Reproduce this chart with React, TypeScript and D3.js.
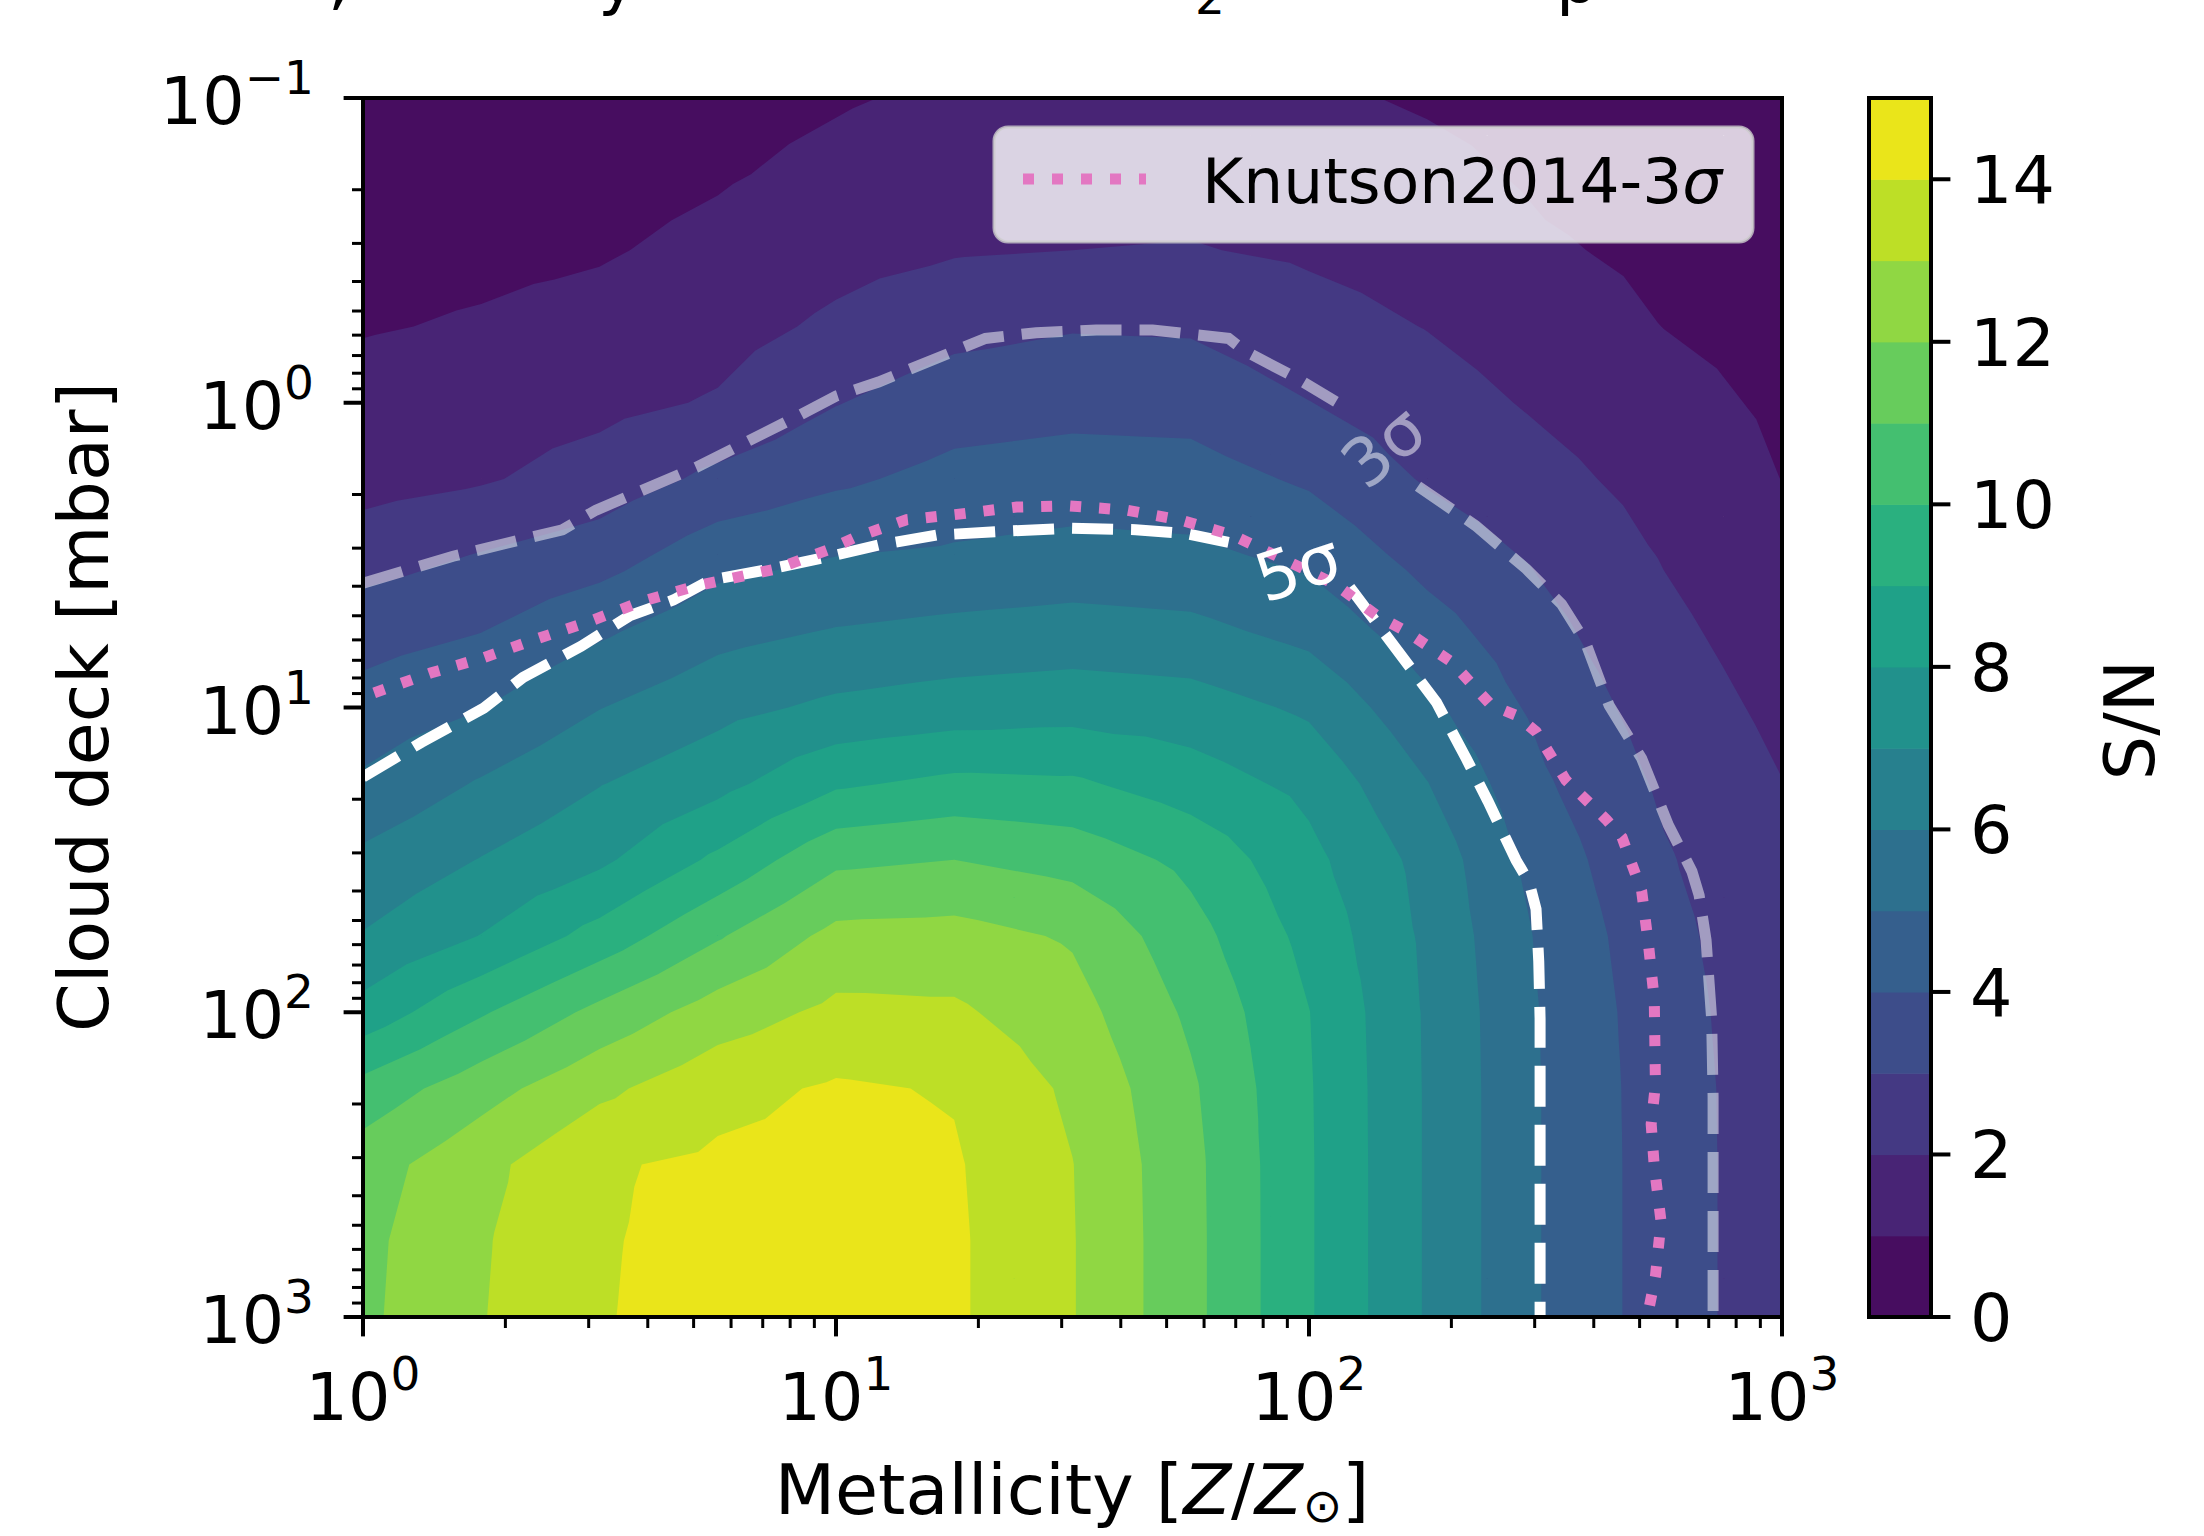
import React from "react";
import * as d3 from "d3";

// ---------------- data ----------------
// grid columns: metallicity [Z/Zsun]
const METALLICITY = [1, 1.778, 3.162, 5.623, 10, 17.78, 31.62, 56.23, 100, 177.8, 316.2, 562.3, 1000];
// grid rows: cloud deck pressure [mbar]
const CLOUD_DECK = [0.1, 0.1778, 0.3162, 0.5623, 1, 1.778, 3.162, 5.623, 10, 17.78, 31.62, 56.23, 100, 177.8, 316.2, 562.3, 1000];

// S/N values, one array per cloud-deck row (columns follow METALLICITY)
const SN_P0100 = [0.30, 0.35, 0.45, 0.70, 0.92, 1.15, 1.30, 1.30, 1.15, 0.90, 0.65, 0.45, 0.30];
const SN_P0178 = [0.51, 0.58, 0.69, 0.91, 1.23, 1.53, 1.65, 1.66, 1.50, 1.26, 0.85, 0.63, 0.44];
const SN_P0316 = [0.73, 0.81, 0.92, 1.23, 1.67, 1.92, 2.00, 2.05, 1.86, 1.61, 1.10, 0.81, 0.57];
const SN_P0562 = [0.94, 1.08, 1.29, 1.63, 2.18, 2.70, 2.93, 2.88, 2.37, 1.97, 1.46, 0.99, 0.71];
const SN_P1000 = [1.33, 1.52, 1.73, 2.09, 2.96, 3.53, 3.69, 3.64, 3.02, 2.43, 1.84, 1.31, 0.85];
const SN_P1780 = [1.62, 1.90, 2.42, 3.24, 3.82, 4.31, 4.46, 4.40, 3.86, 2.90, 2.29, 1.63, 0.99];
const SN_P3160 = [2.55, 3.05, 3.52, 4.59, 4.98, 5.14, 5.33, 5.22, 4.75, 3.63, 2.81, 1.94, 1.24];
const SN_P5620 = [3.59, 3.98, 4.84, 5.69, 6.06, 6.27, 6.41, 6.27, 5.70, 4.43, 3.26, 2.24, 1.50];
const SN_P10 = [4.38, 4.97, 5.97, 6.69, 7.21, 7.47, 7.60, 7.45, 6.83, 5.24, 3.68, 2.54, 1.76];
const SN_P17 = [5.17, 6.10, 6.96, 7.69, 8.85, 9.25, 9.16, 8.49, 7.73, 6.03, 4.10, 2.84, 2.02];
const SN_P31 = [6.23, 7.04, 7.80, 9.20, 10.79, 11.00, 10.63, 9.74, 8.28, 6.65, 4.50, 3.10, 2.20];
const SN_P56 = [7.06, 8.03, 9.37, 10.90, 12.30, 12.37, 11.89, 10.37, 8.70, 6.80, 4.78, 3.30, 2.30];
const SN_P100 = [8.36, 9.89, 11.28, 12.47, 13.24, 13.16, 12.39, 10.82, 9.02, 6.88, 4.90, 3.42, 2.36];
const SN_P178 = [10.36, 11.60, 12.77, 13.70, 14.12, 13.93, 12.82, 11.15, 9.08, 6.90, 4.93, 3.48, 2.40];
const SN_P316 = [11.55, 12.70, 13.90, 14.18, 14.30, 14.10, 13.02, 11.28, 9.10, 6.90, 4.93, 3.50, 2.40];
const SN_P562 = [11.75, 12.90, 13.93, 14.27, 14.38, 14.15, 13.05, 11.30, 9.10, 6.90, 4.93, 3.50, 2.40];
const SN_P1K = [11.80, 12.95, 13.95, 14.30, 14.40, 14.15, 13.05, 11.30, 9.10, 6.90, 4.93, 3.50, 2.40];

const SN_ROWS = [SN_P0100, SN_P0178, SN_P0316, SN_P0562, SN_P1000, SN_P1780, SN_P3160, SN_P5620,
  SN_P10, SN_P17, SN_P31, SN_P56, SN_P100, SN_P178, SN_P316, SN_P562, SN_P1K];

const LEVELS = [0, 1, 2, 3, 4, 5, 6, 7, 8, 9, 10, 11, 12, 13, 14, 15];
const CBAR_TICKS = [0, 2, 4, 6, 8, 10, 12, 14];

// contour lines [metallicity, cloud deck mbar]; split where the inline label sits
const SIGMA3_A = [[1, 3.91], [1.55, 3.19], [2.64, 2.61], [3.11, 2.25], [5.06, 1.63], [8.22, 1.115], [10.0, 0.951],
  [12.3, 0.855], [20.7, 0.615], [26.5, 0.589], [35.5, 0.577], [46.7, 0.577], [67.6, 0.615], [73.3, 0.677],
  [93.8, 0.828], [114, 0.992]];
const SIGMA3_B = [[170, 1.88], [225, 2.53], [288, 3.51], [342, 4.58], [384, 6.10], [431, 9.84], [505, 14.7],
  [575, 24.3], [645, 34.5], [668, 41.3], [691, 58.0], [710, 105], [715, 189], [715, 1000]];
const SIGMA5_A = [[1, 16.9], [1.33, 13.0], [1.80, 10.05], [2.18, 7.96], [2.89, 6.30], [3.67, 4.99], [4.53, 4.44],
  [5.42, 3.82], [7.02, 3.55], [10.0, 3.16], [12.3, 2.93], [16.3, 2.72], [22.6, 2.64], [31.2, 2.58], [43.0, 2.61],
  [55.0, 2.69], [67.6, 2.87]];
const SIGMA5_B = [[122, 4.03], [186, 9.63], [215, 14.7], [239, 20.3], [274, 31.7], [292, 37.5], [302, 45.9],
  [306, 68.0], [308, 105], [308, 1000]];
const KNUTSON = [[1.056, 8.95], [1.389, 7.71], [1.80, 6.86], [2.32, 5.97], [3.03, 5.20], [3.90, 4.48], [5.06, 3.99],
  [7.47, 3.51], [9.68, 3.03], [10.9, 2.78], [14.1, 2.42], [18.2, 2.32], [24.1, 2.20], [31.2, 2.18], [41.0, 2.25],
  [53.2, 2.42], [69.0, 2.72], [88.2, 3.26], [114, 3.95], [139, 4.99], [160, 5.61], [200, 7.08], [243, 9.84],
  [274, 10.6], [302, 12.0], [349, 17.3], [425, 23.3], [459, 26.7], [505, 40.0], [522, 59.9], [537, 90.7],
  [540, 173], [529, 233], [537, 321], [555, 486], [540, 735], [519, 1000]];

const X_DECADES = [1, 10, 100, 1000];
const X_EXP = ["0", "1", "2", "3"];
const Y_DECADES = [0.1, 1, 10, 100, 1000];
const Y_EXP = ["\u22121", "0", "1", "2", "3"];

// ---------------- layout ----------------
const W = 2204;
const H = 1536;
const L = 363, R = 1782, T = 98, B = 1317;
const FS = 66.7;
const FS_LABEL = 70;
const FS_LEGEND = 63;
const SUP = 47;
const FONT = "'DejaVu Sans', sans-serif";
const CB_L = 1869, CB_R = 1931;

type V = [number, number, number];

function clipAbove(poly: V[], t: number): V[] {
  const out: V[] = [];
  for (let i = 0; i < poly.length; i++) {
    const a = poly[i];
    const b = poly[(i + 1) % poly.length];
    const ain = a[2] >= t;
    const bin = b[2] >= t;
    if (ain) out.push(a);
    if (ain !== bin) {
      const f = (t - a[2]) / (b[2] - a[2]);
      out.push([a[0] + f * (b[0] - a[0]), a[1] + f * (b[1] - a[1]), t]);
    }
  }
  return out;
}

function buildLayers(px: number[], py: number[], rows: number[][], levels: number[]): string[] {
  const res: string[] = [];
  for (let k = 0; k < levels.length - 1; k++) {
    const t = levels[k];
    let d = "";
    for (let r = 0; r < py.length - 1; r++) {
      for (let c = 0; c < px.length - 1; c++) {
        const a: V = [px[c], py[r], rows[r][c]];
        const b: V = [px[c + 1], py[r], rows[r][c + 1]];
        const cc: V = [px[c + 1], py[r + 1], rows[r + 1][c + 1]];
        const dd: V = [px[c], py[r + 1], rows[r + 1][c]];
        const m: V = [(a[0] + b[0]) / 2, (a[1] + dd[1]) / 2, (a[2] + b[2] + cc[2] + dd[2]) / 4];
        const tris: V[][] = [[a, b, m], [b, cc, m], [cc, dd, m], [dd, a, m]];
        for (const tri of tris) {
          const p = clipAbove(tri, t);
          if (p.length >= 3) {
            d += "M" + p.map((q) => q[0].toFixed(2) + "," + q[1].toFixed(2)).join("L") + "Z";
          }
        }
      }
    }
    res.push(d);
  }
  return res;
}

export default function App() {
  const x = d3.scaleLog().domain([1, 1000]).range([L, R]);
  const y = d3.scaleLog().domain([0.1, 1000]).range([T, B]);
  const yc = d3.scaleLinear().domain([0, 15]).range([B, T]);
  const color = (k: number) => d3.interpolateViridis((k + 0.5) / 15);

  const px = METALLICITY.map((v) => x(v));
  const py = CLOUD_DECK.map((v) => y(v));
  const layers = buildLayers(px, py, SN_ROWS, LEVELS);

  const line = d3.line<number[]>().x((d) => x(d[0])).y((d) => y(d[1]));

  const xMinor: number[] = [];
  [1, 10, 100].forEach((d) => { for (let m = 2; m <= 9; m++) xMinor.push(d * m); });
  const yMinor: number[] = [];
  [0.1, 1, 10, 100].forEach((d) => { for (let m = 2; m <= 9; m++) yMinor.push(d * m); });

  const faint = "rgba(255,255,255,0.5)";

  return (
    <svg width={W} height={H} style={{ position: "absolute", left: 0, top: 0, background: "#ffffff" }}
      fontFamily={FONT}>
      <defs>
        <clipPath id="plotclip">
          <rect x={L} y={T} width={R - L} height={B - T} />
        </clipPath>
      </defs>
      <rect x={0} y={0} width={W} height={H} fill="#ffffff" />

      {/* title, cut off by the top edge of the figure: only descenders remain */}
      <g fontSize={FS} fill="#000">
        <text x={328} y={2}>,</text>
        <text x={598} y={2}>y</text>
        <text x={1195} y={14} fontSize={SUP}>2</text>
        <text x={1556} y={2}>p</text>
      </g>

      {/* filled contours */}
      <g clipPath="url(#plotclip)">
        {layers.map((d, k) => (
          <path key={k} d={d} fill={color(k)} stroke="none" />
        ))}
      </g>

      {/* contour lines */}
      <g clipPath="url(#plotclip)" fill="none">
        <path d={line(SIGMA3_A) || ""} stroke={faint} strokeWidth={11} strokeDasharray="41,18" />
        <path d={line(SIGMA3_B) || ""} stroke={faint} strokeWidth={11} strokeDasharray="41,18" />
        <path d={line(SIGMA5_A) || ""} stroke="#ffffff" strokeWidth={11} strokeDasharray="41,18" />
        <path d={line(SIGMA5_B) || ""} stroke="#ffffff" strokeWidth={11} strokeDasharray="41,18" />
        <path d={line(KNUTSON) || ""} stroke="#e377c2" strokeWidth={11} strokeDasharray="11,18" />
      </g>

      {/* inline labels */}
      <text x={1384} y={447} fontSize={FS} fill={faint} textAnchor="middle" dominantBaseline="central"
        transform="rotate(-40 1384 447)">3σ</text>
      <text x={1298} y={568} fontSize={FS} fill="#ffffff" textAnchor="middle" dominantBaseline="central"
        transform="rotate(-18 1298 568)">5σ</text>

      {/* legend */}
      <rect x={994} y={127} width={759} height={115} rx={14} ry={14} fill="rgba(255,255,255,0.8)"
        stroke="rgba(204,204,204,0.8)" strokeWidth={3} />
      <line x1={1023} y1={179} x2={1146} y2={179} stroke="#e377c2" strokeWidth={11} strokeDasharray="11,18" />
      <text x={1202} y={203} fontSize={FS_LEGEND} fill="#000000">Knutson2014-3<tspan fontStyle="italic">σ</tspan></text>

      {/* spines */}
      <rect x={L} y={T} width={R - L} height={B - T} fill="none" stroke="#000000" strokeWidth={4} />

      {/* x ticks */}
      {X_DECADES.map((d) => (
        <line key={"xM" + d} x1={x(d)} x2={x(d)} y1={B} y2={B + 19.4} stroke="#000" strokeWidth={4} />
      ))}
      {xMinor.map((d) => (
        <line key={"xm" + d} x1={x(d)} x2={x(d)} y1={B} y2={B + 11} stroke="#000" strokeWidth={3} />
      ))}
      {X_DECADES.map((d, i) => (
        <text key={"xl" + d} x={x(d)} y={1420} fontSize={FS} textAnchor="middle" fill="#000">
          10<tspan dy={-30} fontSize={SUP}>{X_EXP[i]}</tspan>
        </text>
      ))}

      {/* y ticks */}
      {Y_DECADES.map((d) => (
        <line key={"yM" + d} x1={L - 19.4} x2={L} y1={y(d)} y2={y(d)} stroke="#000" strokeWidth={4} />
      ))}
      {yMinor.map((d) => (
        <line key={"ym" + d} x1={L - 11} x2={L} y1={y(d)} y2={y(d)} stroke="#000" strokeWidth={3} />
      ))}
      {Y_DECADES.map((d, i) => (
        <text key={"yl" + d} x={314} y={y(d) + 26} fontSize={FS} textAnchor="end" fill="#000">
          10<tspan dy={-30} fontSize={SUP}>{Y_EXP[i]}</tspan>
        </text>
      ))}

      {/* axis labels */}
      <text x={84} y={707} fontSize={FS_LABEL} textAnchor="middle" dominantBaseline="central"
        transform="rotate(-90 84 707)" fill="#000">Cloud deck [mbar]</text>
      <text x={1072} y={1514} fontSize={FS_LABEL} textAnchor="middle" fill="#000">
        Metallicity [<tspan fontStyle="italic">Z</tspan>/<tspan fontStyle="italic">Z</tspan>
        <tspan fontSize={SUP} dy={8}>⊙</tspan><tspan dy={-8}>]</tspan>
      </text>

      {/* colorbar */}
      {LEVELS.slice(0, -1).map((k) => (
        <rect key={"cb" + k} x={CB_L} y={yc(k + 1)} width={CB_R - CB_L} height={yc(k) - yc(k + 1) + 0.6}
          fill={color(k)} />
      ))}
      <rect x={CB_L} y={T} width={CB_R - CB_L} height={B - T} fill="none" stroke="#000" strokeWidth={4} />
      {CBAR_TICKS.map((v) => (
        <g key={"cbt" + v}>
          <line x1={CB_R} x2={CB_R + 19.4} y1={yc(v)} y2={yc(v)} stroke="#000" strokeWidth={4} />
          <text x={1970} y={yc(v) + 24} fontSize={FS} fill="#000">{v}</text>
        </g>
      ))}
      <text x={2130} y={720} fontSize={FS_LABEL} textAnchor="middle" dominantBaseline="central"
        transform="rotate(-90 2130 720)" fill="#000">S/N</text>
    </svg>
  );
}
